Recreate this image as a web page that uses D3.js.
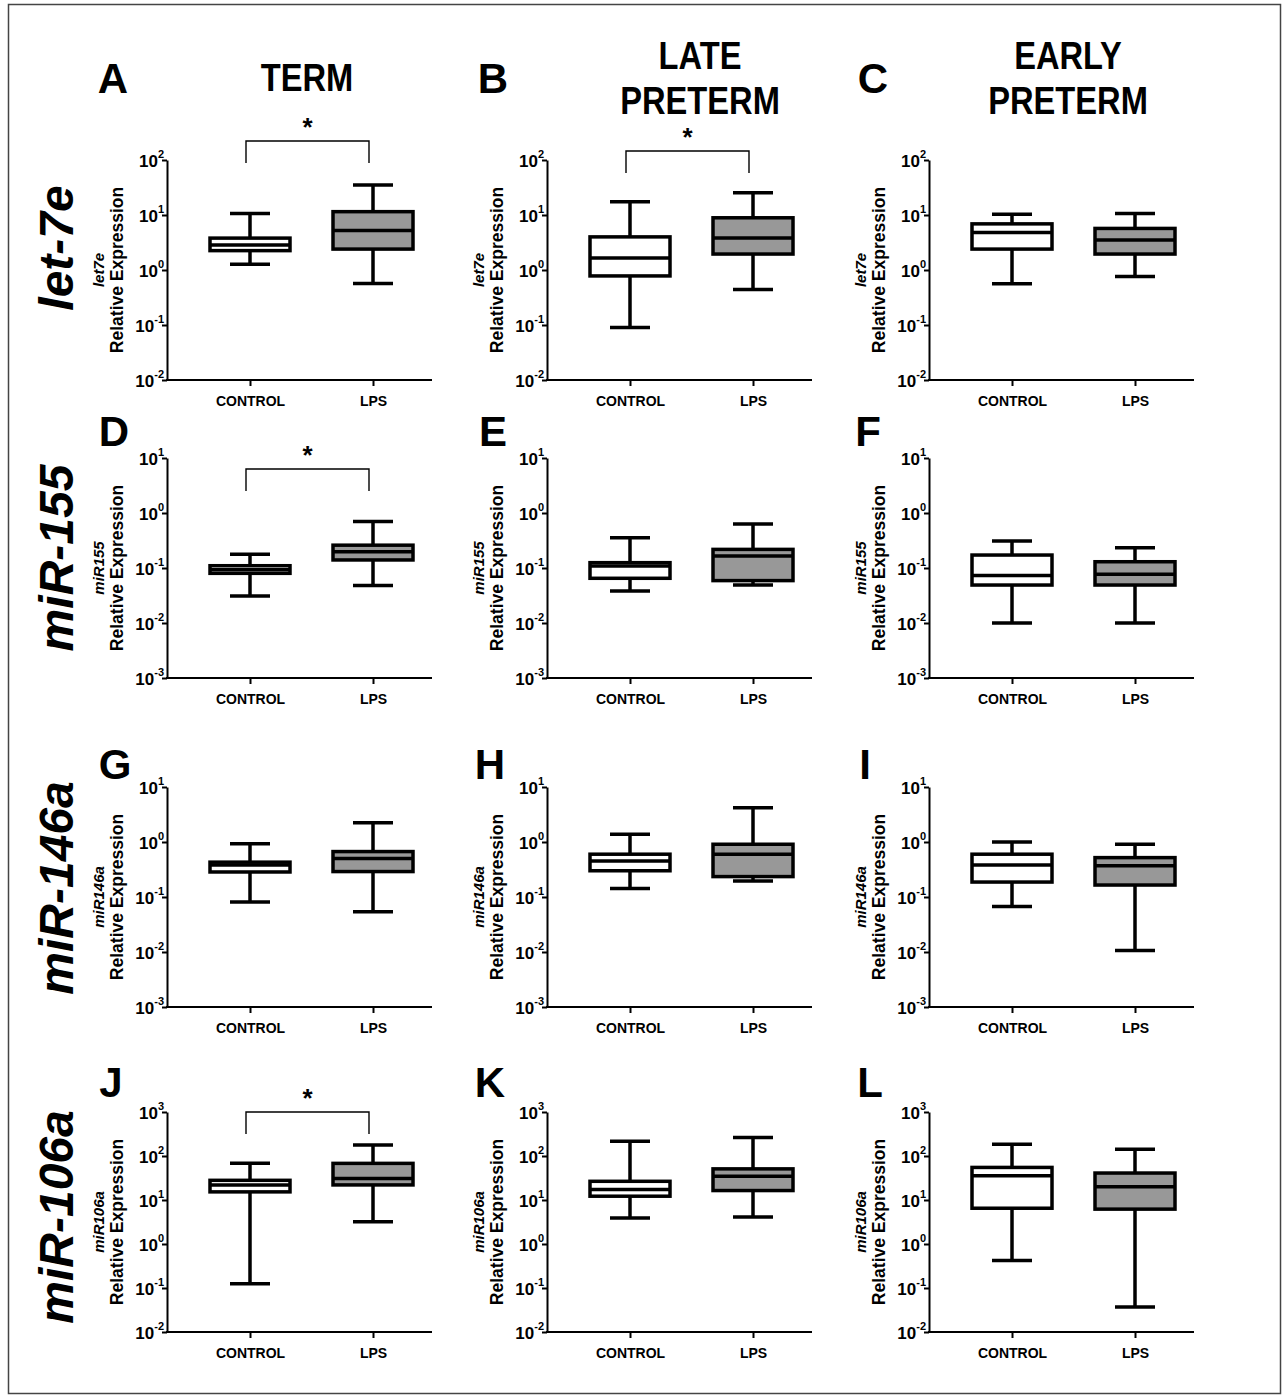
<!DOCTYPE html>
<html>
<head>
<meta charset="utf-8">
<script src="https://cdn.jsdelivr.net/npm/d3@7"></script>
<style>
  html, body { margin: 0; padding: 0; background: #fff; }
  svg { display: block; }
  text { font-family: "Liberation Sans", Arial, Helvetica, sans-serif; font-weight: bold; fill: #000; }
</style>
</head>
<body>
<svg id="fig" width="1288" height="1400"></svg>
<script>
// ---- data -------------------------------------------------------------
const groups = ["CONTROL", "LPS"];
const columnTitles = [["TERM"], ["LATE", "PRETERM"], ["EARLY", "PRETERM"]];
const rowLabels = ["let-7e", "miR-155", "miR-146a", "miR-106a"];
const axisGeneLabels = ["let7e", "miR155", "miR146a", "miR106a"];
// y-axis decades (log10 exponent range) for each row
const rowExponentRange = [[-2, 2], [-3, 1], [-3, 1], [-2, 3]];
const panelLetters = [["A", "B", "C"], ["D", "E", "F"], ["G", "H", "I"], ["J", "K", "L"]];

// five-number summaries [min, q1, median, q3, max]; first CONTROL, then LPS
const boxA = [[1.27, 2.25, 2.85, 3.8, 10.7], [0.57, 2.4, 5.2, 11.5, 35]];
const boxB = [[0.09, 0.78, 1.65, 4.0, 17.5], [0.44, 1.95, 3.8, 8.9, 25.5]];
const boxC = [[0.56, 2.4, 4.8, 6.9, 10.3], [0.76, 1.95, 3.5, 5.7, 10.7]];
const boxD = [[0.031, 0.08, 0.093, 0.11, 0.177], [0.048, 0.14, 0.198, 0.26, 0.70]];
const boxE = [[0.038, 0.065, 0.109, 0.125, 0.356], [0.049, 0.059, 0.165, 0.218, 0.63]];
const boxF = [[0.01, 0.049, 0.073, 0.172, 0.31], [0.01, 0.049, 0.077, 0.13, 0.234]];
const boxG = [[0.081, 0.285, 0.38, 0.43, 0.93], [0.054, 0.29, 0.5, 0.67, 2.25]];
const boxH = [[0.142, 0.30, 0.45, 0.6, 1.38], [0.195, 0.235, 0.60, 0.91, 4.2]];
const boxI = [[0.067, 0.187, 0.38, 0.60, 1.0], [0.0107, 0.165, 0.37, 0.52, 0.91]];
const boxJ = [[0.125, 15.3, 22, 28, 68], [3.2, 22, 31, 68, 178]];
const boxK = [[3.9, 12.2, 17.3, 26.6, 215], [4.1, 16.4, 34.6, 51, 265]];
const boxL = [[0.42, 6.5, 35.5, 55, 185], [0.037, 6.2, 20, 41, 143]];

// panels with a significant CONTROL vs LPS difference
const significantPanels = ["A", "B", "D", "J"];

// ---- layout -----------------------------------------------------------
const panelStats = { A: boxA, B: boxB, C: boxC, D: boxD, E: boxE, F: boxF,
                     G: boxG, H: boxH, I: boxI, J: boxJ, K: boxK, L: boxL };
const colAxisX = [167, 547, 929];
const rowTop = [160, 458, 787, 1112];
const rowBottom = [380, 678, 1007, 1332];
const xAxisLength = 265;
const groupOffset = [83, 206];
const boxWidth = 80, capWidth = 40, lw = 3.5;
const groupFill = ["#ffffff", "#989898"];
const titleX = [307, 700, 1068];
const rowLabelY = [248, 558, 888, 1217];
const letterX = [[113, 493, 873], [114, 493, 868], [115, 490, 865], [111, 490, 870]];
const letterBaseline = [93, 446, 779, 1097];
const bracketOffset = { A: -19, B: -9, D: 11, J: 0 };

const svg = d3.select("#fig");
svg.append("rect").attr("x", 8.5).attr("y", 4.5).attr("width", 1272).attr("height", 1389)
  .attr("fill", "#fff").attr("stroke", "#444").attr("stroke-width", 1.5);

// column headings
columnTitles.forEach((lines, c) => {
  const t = svg.append("text").attr("text-anchor", "middle")
    .attr("font-size", 38).attr("transform", `translate(${titleX[c]},0) scale(0.86,1)`);
  const baselines = lines.length === 1 ? [91] : [69, 114];
  lines.forEach((s, i) => t.append("tspan").attr("x", 0).attr("y", baselines[i]).text(s));
});

// row headings (gene names)
rowLabels.forEach((s, r) => {
  svg.append("text").attr("text-anchor", "middle")
    .attr("font-size", 48).attr("font-style", "italic")
    .attr("transform", `translate(73,${rowLabelY[r]}) rotate(-90)`)
    .text(s);
});

rowLabels.forEach((_, r) => {
  colAxisX.forEach((ax, c) => {
    const letter = panelLetters[r][c];
    const stats = panelStats[letter];
    const [e0, e1] = rowExponentRange[r];
    const y = d3.scaleLog().domain([Math.pow(10, e0), Math.pow(10, e1)])
      .range([rowBottom[r], rowTop[r]]);
    const x = d3.scalePoint().domain(groups).range([ax + groupOffset[0], ax + groupOffset[1]]);
    const g = svg.append("g");

    // panel letter
    g.append("text").attr("x", letterX[r][c]).attr("y", letterBaseline[r])
      .attr("text-anchor", "middle").attr("font-size", 42).text(letter);

    // y axis with power-of-ten labels
    const exps = d3.range(e0, e1 + 1);
    const yAxis = g.append("g").attr("transform", `translate(${ax},0)`)
      .call(d3.axisLeft(y).tickValues(exps.map(e => Math.pow(10, e)))
        .tickSize(5).tickSizeOuter(0).tickPadding(4).tickFormat(() => ""));
    yAxis.attr("font-size", null).attr("font-family", null);
    yAxis.select(".domain").attr("stroke-width", 2).attr("stroke", "#000");
    yAxis.selectAll(".tick line").attr("stroke-width", 2).attr("stroke", "#000");
    yAxis.selectAll(".tick text").each(function (d) {
      const t = d3.select(this).style("font-size", "17px").attr("x", -3).attr("dy", "0.36em");
      t.append("tspan").text("10");
      t.append("tspan").style("font-size", "11px").attr("dy", "-0.8em")
        .text(String(Math.round(Math.log10(d))));
    });

    // y axis title
    const midY = (rowTop[r] + rowBottom[r]) / 2;
    g.append("text").attr("text-anchor", "middle").style("font-size", "17.5px")
      .attr("transform", `translate(${ax - 44},${midY}) rotate(-90)`)
      .text("Relative Expression");
    g.append("text").attr("text-anchor", "middle").style("font-size", "15px")
      .attr("font-style", "italic")
      .attr("transform", `translate(${ax - 63},${midY}) rotate(-90)`)
      .text(axisGeneLabels[r]);

    // x axis
    const xAxis = g.append("g").attr("transform", `translate(0,${rowBottom[r]})`)
      .call(d3.axisBottom(x).tickSize(6).tickPadding(10).tickSizeOuter(0));
    xAxis.attr("font-size", null).attr("font-family", null);
    xAxis.select(".domain").remove();
    xAxis.append("line").attr("x1", ax - 1).attr("x2", ax + xAxisLength)
      .attr("stroke", "#000").attr("stroke-width", 2);
    xAxis.selectAll(".tick line").attr("stroke-width", 2).attr("stroke", "#000");
    xAxis.selectAll(".tick text").style("font-size", "14px").attr("fill", "#000");

    // box plots
    groups.forEach((grp, i) => {
      const [mn, q1, md, q3, mx] = stats[i];
      const cx = x(grp);
      const bg = g.append("g").attr("stroke", "#000").attr("stroke-width", lw);
      bg.append("line").attr("x1", cx).attr("x2", cx).attr("y1", y(mx)).attr("y2", y(q3));
      bg.append("line").attr("x1", cx).attr("x2", cx).attr("y1", y(q1)).attr("y2", y(mn));
      bg.append("line").attr("x1", cx - capWidth / 2).attr("x2", cx + capWidth / 2)
        .attr("y1", y(mx)).attr("y2", y(mx));
      bg.append("line").attr("x1", cx - capWidth / 2).attr("x2", cx + capWidth / 2)
        .attr("y1", y(mn)).attr("y2", y(mn));
      bg.append("rect").attr("x", cx - boxWidth / 2).attr("width", boxWidth)
        .attr("y", y(q3)).attr("height", y(q1) - y(q3)).attr("fill", groupFill[i]);
      bg.append("line").attr("x1", cx - boxWidth / 2).attr("x2", cx + boxWidth / 2)
        .attr("y1", y(md)).attr("y2", y(md));
    });

    // significance bracket
    if (significantPanels.includes(letter)) {
      const by = rowTop[r] + bracketOffset[letter];
      const x0 = x(groups[0]) - 4, x1 = x(groups[1]) - 4;
      g.append("path")
        .attr("d", `M${x0},${by + 22}V${by}H${x1}V${by + 22}`)
        .attr("fill", "none").attr("stroke", "#000").attr("stroke-width", 1.4);
      g.append("text").attr("x", (x0 + x1) / 2).attr("y", by - 5)
        .attr("text-anchor", "middle").style("font-size", "26px").text("*");
    }
  });
});
</script>
</body>
</html>
